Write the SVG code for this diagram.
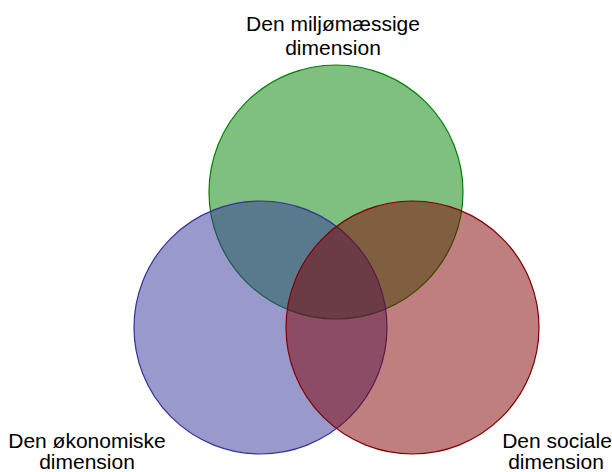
<svg xmlns="http://www.w3.org/2000/svg" width="612" height="472" viewBox="0 0 612 472">
<style>
.c{fill-opacity:0.5;stroke-width:1.2}
.t{font-family:"Liberation Sans",Arial,sans-serif;font-size:21px;fill:#000;text-anchor:middle}
</style>
<rect width="612" height="472" fill="#fff"/>
<g id="env"><circle class="c" cx="336" cy="192" r="127" fill="#008000" stroke="#008000"/></g>
<g id="econ"><circle class="c" cx="260.5" cy="327.5" r="126.5" fill="#333399" stroke="#333399"/></g>
<g id="social"><circle class="c" cx="412.5" cy="327.5" r="126.5" fill="#800000" stroke="#800000"/></g>
<g id="connectors"></g>
<g id="labels">
<text class="t" x="333" y="31">Den miljømæssige</text>
<text class="t" x="333" y="55">dimension</text>
<text class="t" x="87" y="448">Den økonomiske</text>
<text class="t" x="87" y="469">dimension</text>
<text class="t" x="557" y="448">Den sociale</text>
<text class="t" x="556" y="469">dimension</text>
</g>
</svg>
